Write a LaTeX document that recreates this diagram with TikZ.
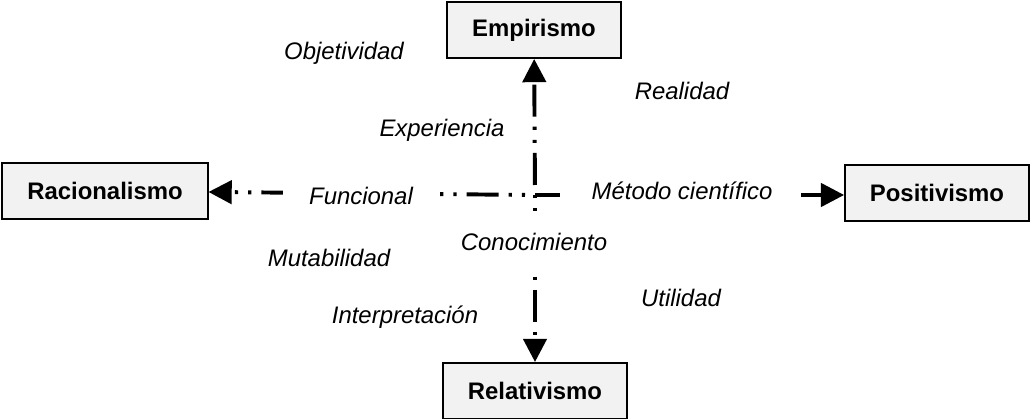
\documentclass[tikz,border=0pt]{standalone}
\usepackage{fontspec}
\setmainfont{Liberation Sans}
\usetikzlibrary{arrows.meta}

\begin{document}
\begin{tikzpicture}[
x=0.025cm, y=-0.025cm,
box/.style={draw, line width=1.4pt, fill=gray!10, inner xsep=0.62cm, minimum height=1.4cm, font=\fontsize{17}{20}\selectfont\bfseries},
lbl/.style={font=\fontsize{17}{20}\selectfont\itshape},
tapa/.style={lbl, fill=white, inner xsep=0.65cm, inner ysep=0.4cm},
eje/.style={-{Triangle[length=0.58cm, width=0.58cm]}, line width=2.8pt, dash pattern=on 0.8cm off 0.25cm on 0.08cm off 0.25cm on 0.08cm off 0.25cm}
]
\useasboundingbox (0,0) rectangle (1032,419);

\node[box] (emp) at (534,30) {Empirismo};
\node[box] (rac) at (105,191) {Racionalismo};
\node[box] (pos) at (937,193) {Positivismo};
\node[box] (rel) at (535,391) {Relativismo};
\coordinate (centro) at (535,195);

\draw[eje, dash phase=1.46cm] (centro) -- (emp);
\draw[eje, dash phase=0.8cm] (centro) -- (rac);
\draw[eje, dash phase=0.18cm] (centro) -- (pos.west |- centro);
\draw[eje, dash phase=1.05cm] (centro) -- (rel);

% etiquetas
\node[lbl] (obj) at (344,53) {Objetividad};
\node[lbl] (rea) at (682,91) {Realidad};
\node[lbl] (exp) at (442,130) {Experiencia};
\node[tapa] (fun) at (361,196) {Funcional};
\node[tapa] (met) at (682,191) {Método científico};
\node[lbl] (mut) at (329,258) {Mutabilidad};
\node[tapa] (con) at (534,242) {Conocimiento};
\node[lbl] (uti) at (681,298) {Utilidad};
\node[lbl] (int) at (405,317) {Interpretación};
\end{tikzpicture}
\end{document}
